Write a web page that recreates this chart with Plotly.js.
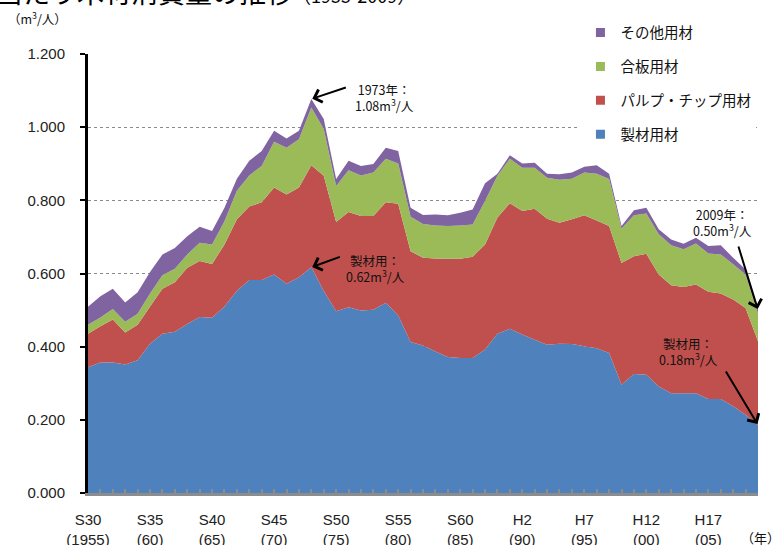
<!DOCTYPE html>
<html>
<head>
<meta charset="utf-8">
<script src="https://cdn.plot.ly/plotly-3.0.1.min.js"></script>
<style>
  html, body { margin: 0; padding: 0; background: #fff; }
  #chart { width: 773px; height: 545px; }
</style>
</head>
<body>
<div id="chart"></div>
<script>
// 年 (S30=1955 ... H21=2009)
const years = [1955, 1956, 1957, 1958, 1959, 1960, 1961, 1962, 1963, 1964,
               1965, 1966, 1967, 1968, 1969, 1970, 1971, 1972, 1973, 1974,
               1975, 1976, 1977, 1978, 1979, 1980, 1981, 1982, 1983, 1984,
               1985, 1986, 1987, 1988, 1989, 1990, 1991, 1992, 1993, 1994,
               1995, 1996, 1997, 1998, 1999, 2000, 2001, 2002, 2003, 2004,
               2005, 2006, 2007, 2008, 2009];

// m3/人
const seizai = [.344, .357, .357, .351, .363, .408, .435, .441, .462, .481,
                .479, .510, .553, .582, .582, .597, .572, .590, .617, .552,
                .497, .508, .499, .501, .520, .485, .413, .403, .387, .372,
                .369, .369, .392, .435, .449, .433, .419, .405, .408, .407,
                .401, .396, .383, .296, .325, .323, .291, .273, .273, .273,
                .257, .257, .237, .214, .186];
const pulp = [.091, .099, .117, .088, .097, .102, .123, .135, .154, .153,
              .147, .169, .195, .201, .213, .238, .244, .245, .279, .315,
              .244, .260, .258, .256, .275, .306, .248, .240, .254, .268,
              .271, .277, .287, .318, .343, .338, .358, .345, .331, .341,
              .358, .349, .347, .333, .322, .331, .306, .295, .290, .297,
              .293, .288, .292, .292, .229];
const gouban = [.025, .024, .029, .029, .030, .035, .037, .037, .036, .050,
                .053, .064, .078, .085, .099, .125, .128, .132, .158, .128,
                .098, .114, .111, .119, .119, .110, .094, .092, .090, .090,
                .091, .088, .119, .114, .122, .118, .112, .112, .117, .111,
                .117, .128, .128, .093, .112, .110, .110, .109, .103, .112,
                .105, .107, .096, .091, .075];
const sonota = [.049, .058, .055, .053, .059, .059, .057, .057, .050, .044,
                .037, .037, .033, .040, .041, .030, .025, .023, .023, .027,
                .019, .026, .026, .023, .030, .034, .025, .025, .030, .029,
                .035, .041, .049, .006, .009, .012, .014, .011, .015, .017,
                .016, .023, .015, .008, .014, .016, .014, .016, .015, .016,
                .020, .025, .018, .014, .010];

const labelYears = [1955, 1960, 1965, 1970, 1975, 1980, 1985, 1990, 1995, 2000, 2005];
const labelText = ['S30<br>(1955)', 'S35<br>(60)', 'S40<br>(65)', 'S45<br>(70)', 'S50<br>(75)',
                   'S55<br>(80)', 'S60<br>(85)', 'H2<br>(90)', 'H7<br>(95)', 'H12<br>(00)', 'H17<br>(05)'];

const seriesNames = ['製材用材', 'パルプ・チップ用材', '合板用材', 'その他用材'];
const seriesColors = ['#4F81BD', '#C0504D', '#9BBB59', '#8064A2'];
const seriesValues = [seizai, pulp, gouban, sonota];

const JP = 'Noto Sans CJK JP, sans-serif';
const LAT = 'Liberation Sans, Arial, Noto Sans CJK JP, sans-serif';

// stacked areas (bottom first)
const areaTraces = seriesValues.map((vals, k) => ({
    x: years,
    y: vals,
    type: 'scatter',
    mode: 'none',
    stackgroup: 'wood',
    fillcolor: seriesColors[k],
    name: seriesNames[k],
    showlegend: false,
    hoverinfo: 'x+y+name'
}));

// legend entries with square swatches (top to bottom)
const legendTraces = [3, 2, 1, 0].map(k => ({
    x: [null],
    y: [null],
    type: 'scatter',
    mode: 'markers',
    name: seriesNames[k],
    legendgroup: 'g' + k,
    marker: { symbol: 'square', size: 9, color: seriesColors[k] }
}));

const last = years.length - 1;
const peak = 18; // 1973
const total = i => seizai[i] + pulp[i] + gouban[i] + sonota[i];

const arrow = (x, y, ax, ay) => ({
    x: x, y: y, xref: 'x', yref: 'y', text: '',
    showarrow: true, arrowhead: 4, arrowsize: 1.3, arrowwidth: 2,
    arrowcolor: '#000', ax: ax, ay: ay, standoff: 1
});
const note = (xp, yp, text) => ({
    x: xp, y: yp, xref: 'paper', yref: 'paper', text: text,
    showarrow: false, xanchor: 'center', yanchor: 'middle',
    font: { family: JP, size: 12.5, color: '#111' }, align: 'center'
});

const layout = {
    width: 773,
    height: 545,
    margin: { l: 88, r: 15, t: 54, b: 52 },
    paper_bgcolor: '#fff',
    plot_bgcolor: '#fff',
    font: { family: LAT, size: 15, color: '#222' },
    showlegend: true,
    legend: {
        x: 0.735, y: 1.085, xanchor: 'left', yanchor: 'top',
        bgcolor: '#fff',
        traceorder: 'grouped',
        tracegroupgap: 12,
        font: { family: JP, size: 14.5, color: '#111' }
    },
    xaxis: {
        range: [1955, 2009],
        tickvals: labelYears,
        ticktext: labelText,
        ticks: 'inside',
        ticklen: 4,
        tickwidth: 2,
        tickcolor: '#8c8c8c',
        minor: { dtick: 1, ticks: 'inside', ticklen: 4, tickwidth: 2, tickcolor: '#8c8c8c' },
        ticklabelstandoff: 11,
        showline: true,
        linecolor: '#8c8c8c',
        linewidth: 3,
        showgrid: false,
        zeroline: false,
        tickangle: 0,
        fixedrange: true
    },
    yaxis: {
        range: [0, 1.2],
        dtick: 0.2,
        tick0: 0,
        tickformat: '.3f',
        ticks: 'outside',
        ticklen: 5,
        tickwidth: 2,
        tickcolor: '#000',
        ticklabelstandoff: 12,
        showline: true,
        linecolor: '#000',
        linewidth: 3,
        showgrid: true,
        gridcolor: '#8a8a8a',
        griddash: 'dot',
        gridwidth: 1,
        zeroline: false,
        fixedrange: true
    },
    annotations: [
        {
            x: -0.140, y: 1.093, xref: 'paper', yref: 'paper', xanchor: 'left', yanchor: 'bottom',
            text: '当たり木材消費量の推移<span style="font-size:18px">（1955-2009）</span>',
            showarrow: false, font: { family: JP, size: 27, color: '#000' }
        },
        {
            x: -0.075, y: 1.082, xref: 'paper', yref: 'paper', xanchor: 'center', yanchor: 'middle',
            text: '（m<sup>3</sup>/人）', showarrow: false, font: { family: JP, size: 12.5, color: '#111' }
        },
        {
            x: 1.003, y: -0.1025, xref: 'paper', yref: 'paper', xanchor: 'center', yanchor: 'middle',
            text: '（年）', showarrow: false, font: { family: JP, size: 13, color: '#111' }
        },
        note(0.4418, 0.8998, '1973年：<br>1.08m<sup>3</sup>/人'),
        note(0.4284, 0.5103, '製材用：<br>0.62m<sup>3</sup>/人'),
        note(0.9463, 0.6173, '2009年：<br>0.50m<sup>3</sup>/人'),
        note(0.8970, 0.3212, '製材用：<br>0.18m<sup>3</sup>/人'),
        arrow(years[peak], total(peak), 36, -12),
        arrow(years[peak], seizai[peak], 30, -11),
        arrow(years[last], total(last), -20, -65),
        arrow(years[last], seizai[last], -33, -55)
    ]
};

Plotly.newPlot('chart', areaTraces.concat(legendTraces), layout, { displayModeBar: false, staticPlot: true });
</script>
</body>
</html>
